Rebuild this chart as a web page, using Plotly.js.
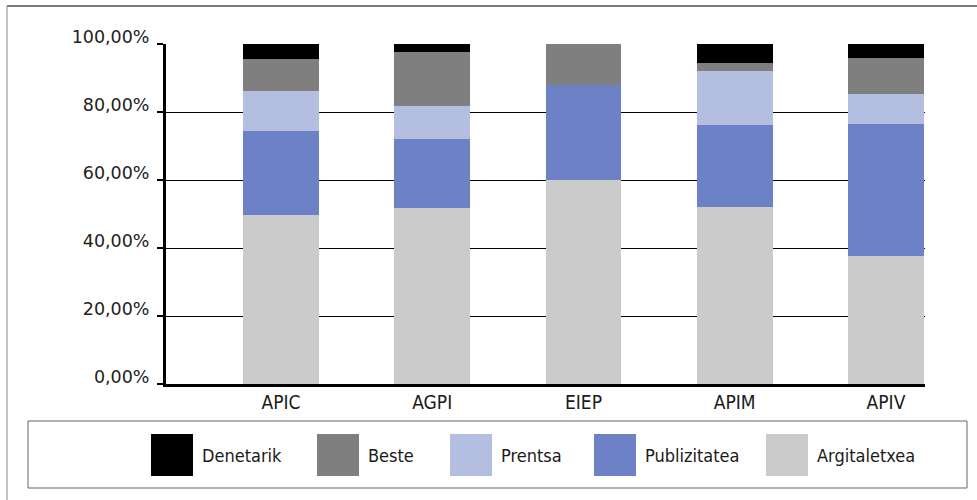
<!DOCTYPE html>
<html>
<head>
<meta charset="utf-8">
<script src="https://cdn.plot.ly/plotly-3.0.1.min.js"></script>
<style>
  html, body { margin: 0; padding: 0; background: #ffffff; }
  #chart { width: 977px; height: 500px; }
</style>
</head>
<body>
<div id="chart"></div>
<script>
// ---- data ----
const categories = ['APIC', 'AGPI', 'EIEP', 'APIM', 'APIV'];
const argitaletxea = [49.8, 51.8, 59.9, 52.1, 37.6];
const publizitatea = [24.5, 20.2, 28.0, 24.2, 39.0];
const prentsa      = [11.8,  9.8,  0.0, 15.8,  8.6];
const beste        = [ 9.4, 15.8, 12.1,  2.4, 10.6];
const denetarik    = [ 4.5,  2.4,  0.0,  5.5,  4.2];
const seriesNames  = ['Argitaletxea', 'Publizitatea', 'Prentsa', 'Beste', 'Denetarik'];
const tickVals   = [0, 20, 40, 60, 80, 100];
const tickLabels = ['0,00%', '20,00%', '40,00%', '60,00%', '80,00%', '100,00%'];

// ---- styles ----
const seriesValues = [argitaletxea, publizitatea, prentsa, beste, denetarik];
const colors = ['#cbcbcb', '#6d81c6', '#b3bee1', '#7f7f7f', '#000000'];
const narrow = '"Liberation Sans Narrow", "Arial Narrow", "DejaVu Sans Condensed", sans-serif';

const W = 977, H = 500;
const M = { l: 166, r: 52, t: 44, b: 116 };
const PW = W - M.l - M.r, PH = H - M.t - M.b;
const px = x => (x - M.l) / PW;
const py = y => (H - M.b - y) / PH;

const traces = seriesNames.map((name, i) => ({
  type: 'bar',
  name: name,
  x: categories,
  y: seriesValues[i],
  width: 0.5,
  marker: { color: colors[i], line: { width: 0 } },
  hoverinfo: 'x+y+name'
}));

// custom legend (order as in reference: reversed stacking order)
const legendOrder = [4, 3, 2, 1, 0];
const swatchX = [151, 317, 450, 594, 766];
const shapes = [];
const annotations = [];

// outer frame
shapes.push({ type: 'line', xref: 'paper', yref: 'paper', x0: px(7), x1: px(990), y0: py(6), y1: py(6),
  line: { color: '#7a7a7a', width: 2 } });
shapes.push({ type: 'line', xref: 'paper', yref: 'paper', x0: px(7), x1: px(7), y0: py(6), y1: py(510),
  line: { color: '#8a8a8a', width: 1 } });
// legend box
shapes.push({ type: 'rect', xref: 'paper', yref: 'paper', x0: px(28), x1: px(967), y0: py(421), y1: py(488),
  line: { color: '#666666', width: 1 }, fillcolor: 'rgba(0,0,0,0)' });

legendOrder.forEach((si, k) => {
  const x0 = swatchX[k];
  shapes.push({ type: 'rect', xref: 'paper', yref: 'paper',
    x0: px(x0), x1: px(x0 + 42), y0: py(434), y1: py(476),
    line: { width: 0 }, fillcolor: colors[si] });
  annotations.push({ xref: 'paper', yref: 'paper', x: px(x0 + 49), y: py(455),
    xanchor: 'left', yanchor: 'middle', showarrow: false, text: seriesNames[si],
    font: { family: narrow, size: 18, color: '#1a1a1a' } });
});

const layout = {
  width: W, height: H,
  margin: M,
  barmode: 'stack',
  showlegend: false,
  paper_bgcolor: '#ffffff',
  plot_bgcolor: '#ffffff',
  xaxis: {
    type: 'category',
    range: [-0.76, 4.258],
    showline: true, linecolor: '#000000', linewidth: 3,
    ticks: '', showgrid: false, zeroline: false,
    tickfont: { family: narrow, size: 19, color: '#1a1a1a' },
    ticklabelstandoff: -1
  },
  yaxis: {
    range: [0, 100],
    tickvals: tickVals, ticktext: tickLabels,
    showline: true, linecolor: '#000000', linewidth: 3,
    ticks: 'outside', ticklen: 6, tickwidth: 2, tickcolor: '#000000',
    showgrid: true, gridcolor: '#000000', gridwidth: 1,
    zeroline: false,
    tickfont: { family: '"DejaVu Sans", sans-serif', size: 17.5, color: '#222222' },
    ticklabelstandoff: 4,
    ticklabelshift: -7
  },
  shapes: shapes,
  annotations: annotations
};

Plotly.newPlot('chart', traces, layout, { displayModeBar: false, staticPlot: true });
</script>
</body>
</html>
